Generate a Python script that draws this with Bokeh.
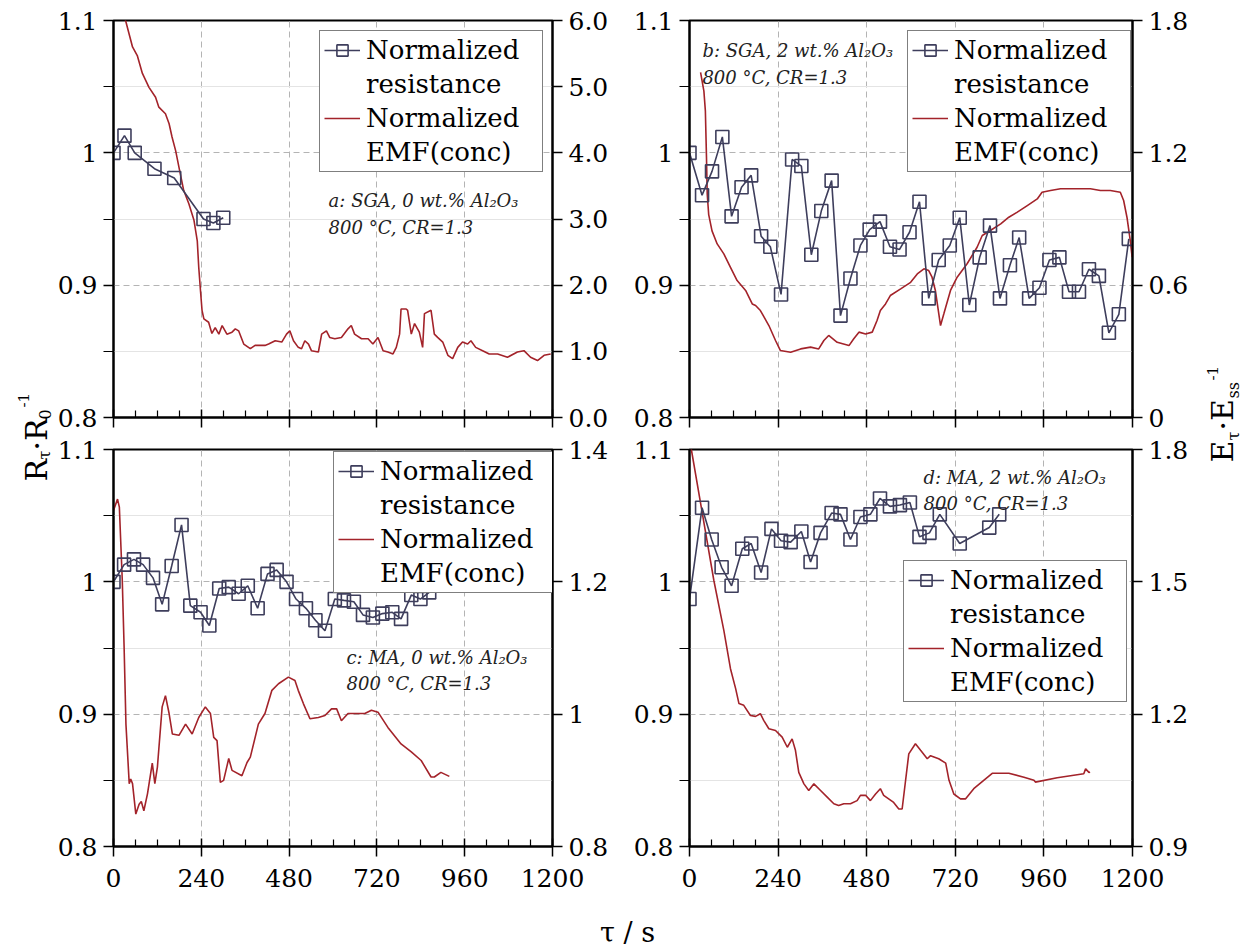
import math
from bokeh.plotting import figure
from bokeh.models import (Range1d, LinearAxis, FixedTicker, NumeralTickFormatter,
                          CustomJSTickFormatter, Legend, LegendItem, Label)
from bokeh.layouts import row, column
from bokeh.embed import file_html
from bokeh.resources import INLINE

# ---------------- data ----------------
x_ticks = [0, 240, 480, 720, 960, 1200]
x_minor = [60, 120, 180, 300, 360, 420, 540, 600, 660, 780, 840, 900, 1020, 1080, 1140]
left_ticks = [0.8, 0.9, 1.0, 1.1]
left_minor = [0.85, 0.95, 1.05]

# panel a: SGA, 0 wt.% Al2O3
a_res_t = [0, 30, 58, 112, 166, 246, 273, 300]
a_res_v = [1.000, 1.013, 1.000, 0.988, 0.981, 0.950, 0.947, 0.951]
a_emf_t = [18, 33, 52, 65, 79, 97, 115, 124, 142, 152, 160, 170, 179, 192, 206, 220, 229, 233, 238, 242,
           247, 260, 269, 278, 288, 297, 310, 324, 333, 342, 356, 374, 387, 414, 424, 442, 460, 473, 482, 492,
           505, 514, 523, 533, 541, 560, 569, 582, 591, 605, 623, 641, 650, 659, 678, 696, 709, 723, 737, 750,
           764, 773, 782, 786, 800, 804, 814, 823, 836, 845, 850, 868, 877, 886, 900, 914, 927, 941, 954, 968,
           977, 990, 1009, 1027, 1050, 1077, 1104, 1122, 1140, 1159, 1177, 1195]
a_emf_v = [6.4, 6.0, 5.6, 5.47, 5.2, 4.99, 4.84, 4.69, 4.59, 4.44, 4.24, 4.03, 3.78, 3.43, 3.23, 2.98, 2.67, 2.27, 1.9, 1.62,
           1.49, 1.44, 1.27, 1.36, 1.26, 1.39, 1.26, 1.29, 1.34, 1.31, 1.11, 1.04, 1.09, 1.09, 1.11, 1.16, 1.14, 1.26, 1.31, 1.16,
           1.06, 1.04, 1.16, 1.11, 1.01, 0.99, 1.26, 1.31, 1.21, 1.19, 1.21, 1.34, 1.39, 1.26, 1.19, 1.19, 1.11, 1.21, 1.01, 0.99,
           0.96, 1.06, 1.26, 1.64, 1.64, 1.62, 1.26, 1.42, 1.29, 1.06, 1.57, 1.62, 1.26, 1.21, 1.14, 0.94, 0.89, 1.06, 1.14, 1.11,
           1.16, 1.06, 1.01, 0.96, 0.96, 0.91, 0.99, 1.01, 0.91, 0.86, 0.94, 0.96]
a_emf_ticks = [0, 1, 2, 3, 4, 5, 6]

# panel b: SGA, 2 wt.% Al2O3
b_res_t = [0, 34, 61, 89, 114, 141, 167, 194, 219, 248, 278, 303, 330, 357, 385, 409, 436, 463, 488, 516,
           543, 569, 596, 623, 648, 675, 705, 732, 758, 786, 814, 841, 868, 893, 920, 948, 975, 1002, 1028, 1055,
           1082, 1109, 1136, 1163, 1190]
b_res_v = [1.000, 0.968, 0.986, 1.012, 0.952, 0.974, 0.983, 0.937, 0.929, 0.893, 0.995, 0.990, 0.923, 0.956, 0.979,
           0.877, 0.905, 0.930, 0.942, 0.948, 0.929, 0.927, 0.940, 0.963, 0.890, 0.919, 0.930, 0.951, 0.885, 0.921,
           0.945, 0.890, 0.915, 0.936, 0.890, 0.898, 0.919, 0.921, 0.895, 0.895, 0.912, 0.907, 0.864, 0.878, 0.935]
b_emf_t = [30, 39, 43, 46, 48, 52, 61, 75, 93, 111, 129, 152, 170, 179, 192, 215, 233, 246, 274, 301,
           328, 350, 364, 377, 400, 432, 445, 459, 477, 495, 508, 517, 531, 544, 572, 599, 617, 635, 648, 657,
           666, 680, 689, 694, 707, 725, 752, 779, 793, 815, 843, 865, 888, 915, 942, 955, 978, 1005, 1032, 1059,
           1086, 1113, 1140, 1167, 1176, 1185, 1194, 1199]
b_emf_v = [1.565, 1.48, 1.39, 1.18, 1.014, 0.92, 0.846, 0.787, 0.742, 0.681, 0.621, 0.576, 0.515, 0.508, 0.485, 0.417, 0.349, 0.304, 0.296, 0.311,
           0.319, 0.311, 0.349, 0.372, 0.341, 0.326, 0.357, 0.387, 0.379, 0.387, 0.440, 0.485, 0.515, 0.553, 0.583, 0.613, 0.651, 0.674, 0.666, 0.636,
           0.576, 0.417, 0.470, 0.500, 0.576, 0.636, 0.697, 0.772, 0.825, 0.848, 0.878, 0.908, 0.931, 0.961, 0.991, 1.021, 1.029, 1.037, 1.037, 1.037,
           1.037, 1.029, 1.029, 1.021, 0.984, 0.908, 0.802, 0.727]
b_emf_ticks = [0, 0.6, 1.2, 1.8]

# panel c: MA, 0 wt.% Al2O3
c_res_t = [0, 29, 56, 81, 108, 133, 159, 186, 210, 238, 262, 289, 315, 342, 367, 394, 421, 446, 473, 499,
           526, 552, 578, 605, 630, 657, 682, 709, 735, 762, 786, 814, 839, 863]
c_res_v = [1.000, 1.013, 1.017, 1.013, 1.003, 0.983, 1.012, 1.043, 0.982, 0.977, 0.967, 0.995, 0.996, 0.991, 0.997,
           0.980, 1.006, 1.009, 1.000, 0.987, 0.980, 0.971, 0.963, 0.987, 0.986, 0.985, 0.975, 0.973, 0.976, 0.977,
           0.972, 0.990, 0.987, 0.992]
c_emf_t = [0, 11, 16, 24, 29, 34, 43, 47, 52, 61, 70, 76, 83, 93, 106, 113, 120, 133, 142, 152,
           161, 179, 197, 215, 233, 251, 265, 274, 283, 292, 301, 315, 324, 351, 365, 374, 396, 414, 433, 451,
           478, 496, 505, 519, 537, 560, 578, 596, 610, 623, 641, 659, 687, 705, 723, 750, 786, 814, 841, 868,
           877, 895, 918]
c_emf_v = [1.308, 1.325, 1.313, 1.202, 1.101, 0.985, 0.895, 0.902, 0.895, 0.849, 0.864, 0.868, 0.854, 0.880, 0.926, 0.895, 0.920, 1.011, 1.028, 1.001,
           0.970, 0.968, 0.985, 0.970, 0.995, 1.011, 1.001, 0.965, 0.960, 0.897, 0.900, 0.933, 0.915, 0.907, 0.927, 0.935, 0.985, 1.001, 1.036, 1.046,
           1.056, 1.051, 1.036, 1.016, 0.993, 0.995, 0.998, 1.008, 1.008, 0.990, 1.001, 1.001, 1.001, 1.006, 1.003, 0.980, 0.955, 0.943, 0.930, 0.905,
           0.905, 0.912, 0.906]
c_emf_ticks = [0.8, 1.0, 1.2, 1.4]

# panel d: MA, 2 wt.% Al2O3
d_res_t = [0, 34, 60, 87, 114, 143, 167, 194, 222, 248, 274, 303, 328, 355, 385, 409, 436, 463, 490, 516,
           543, 570, 597, 623, 650, 678, 732, 812, 839]
d_res_v = [0.987, 1.056, 1.032, 1.011, 0.997, 1.025, 1.029, 1.007, 1.040, 1.031, 1.030, 1.038, 1.015, 1.037, 1.052,
           1.051, 1.032, 1.049, 1.051, 1.063, 1.057, 1.058, 1.060, 1.034, 1.037, 1.051, 1.029, 1.041, 1.051]
d_emf_t = [0, 5, 66, 93, 111, 125, 134, 147, 165, 179, 192, 201, 215, 233, 251, 265, 278, 287, 296, 310,
           323, 337, 355, 373, 391, 404, 418, 436, 454, 463, 477, 490, 504, 517, 526, 553, 567, 576, 594, 612,
           626, 644, 653, 675, 694, 703, 716, 734, 748, 770, 797, 820, 865, 906, 933, 937, 996, 1068, 1073, 1082,
           1085]
d_emf_v = [1.83, 1.80, 1.503, 1.390, 1.303, 1.258, 1.224, 1.220, 1.197, 1.195, 1.201, 1.186, 1.167, 1.163, 1.148, 1.125, 1.144, 1.118, 1.068, 1.042,
           1.027, 1.042, 1.027, 1.012, 0.997, 0.993, 0.997, 0.997, 1.004, 1.016, 1.016, 1.004, 1.019, 1.031, 1.016, 1.000, 0.985, 0.985, 1.110, 1.133,
           1.118, 1.099, 1.106, 1.099, 1.089, 1.050, 1.019, 1.008, 1.008, 1.031, 1.050, 1.066, 1.066, 1.057, 1.050, 1.046, 1.056, 1.065, 1.076, 1.068,
           1.069]
d_emf_ticks = [0.9, 1.2, 1.5, 1.8]

legend_lines = ["Normalized", "resistance", "Normalized", "EMF(conc)"]

# ---------------- style ----------------
FONT = "DejaVu Serif"
RES_COLOR = "#3e3e5c"
EMF_COLOR = "#a3232a"
GRID_COLOR = "#b4b4b4"


def style_axis(ax, font_size="25px"):
    ax.axis_line_width = 2
    ax.axis_line_color = "black"
    ax.major_tick_line_width = 1.5
    ax.major_tick_line_color = "black"
    ax.minor_tick_line_width = 1.2
    ax.minor_tick_line_color = "black"
    ax.major_label_text_font = FONT
    ax.major_label_text_font_size = font_size
    ax.major_label_text_color = "black"
    ax.major_label_standoff = 6


def make_panel(width, height, borders, res_t, res_v, emf_t, emf_v, emf_range, emf_ticks, emf_fmt,
               show_x_labels, legend_loc, notes):
    p = figure(width=width, height=height, x_range=Range1d(0, 1200), y_range=Range1d(0.8, 1.1),
               toolbar_location=None, output_backend="svg",
               min_border_left=borders[0], min_border_right=borders[1],
               min_border_top=borders[2], min_border_bottom=borders[3])
    p.background_fill_color = "white"
    p.border_fill_color = "white"
    p.outline_line_color = "black"
    p.outline_line_width = 2

    # x axis
    xa = p.below[0]
    xa.ticker = FixedTicker(ticks=x_ticks, minor_ticks=x_minor)
    style_axis(xa)
    xa.major_tick_in = 8
    xa.major_tick_out = 10
    xa.minor_tick_in = 7
    xa.minor_tick_out = 0
    if show_x_labels:
        xa.formatter = NumeralTickFormatter(format="0")
        xa.major_label_standoff = 12
    else:
        xa.formatter = CustomJSTickFormatter(code="return ''")
        xa.major_label_standoff = -34

    # left axis
    ya = p.left[0]
    ya.ticker = FixedTicker(ticks=left_ticks, minor_ticks=left_minor)
    ya.formatter = NumeralTickFormatter(format="0.[0]")
    style_axis(ya)
    ya.major_tick_in = 0
    ya.major_tick_out = 10
    ya.minor_tick_in = 0
    ya.minor_tick_out = 10

    # right axis
    p.extra_y_ranges = {"emf": Range1d(*emf_range)}
    ra = LinearAxis(y_range_name="emf", ticker=FixedTicker(ticks=emf_ticks),
                    formatter=NumeralTickFormatter(format=emf_fmt))
    style_axis(ra)
    ra.major_tick_in = 0
    ra.major_tick_out = 10
    ra.minor_tick_in = 0
    ra.minor_tick_out = 0
    p.add_layout(ra, "right")

    # grids
    p.xgrid.grid_line_color = GRID_COLOR
    p.xgrid.grid_line_dash = "6 4"
    p.xgrid.grid_line_width = 1
    p.ygrid.grid_line_color = GRID_COLOR
    p.ygrid.grid_line_dash = "6 4"
    p.ygrid.grid_line_width = 1
    p.ygrid.minor_grid_line_color = "#e4e4e4"
    p.ygrid.minor_grid_line_width = 1

    el = p.line(emf_t, emf_v, y_range_name="emf", line_color=EMF_COLOR, line_width=1.6)
    rl = p.line(res_t, res_v, line_color=RES_COLOR, line_width=1.6)
    rs = p.scatter(res_t, res_v, marker="square", size=13, line_color=RES_COLOR,
                   fill_color=None, line_width=1.6)

    leg = Legend(items=[LegendItem(label=legend_lines[0], renderers=[rl, rs]),
                        LegendItem(label=legend_lines[1], renderers=[]),
                        LegendItem(label=legend_lines[2], renderers=[el]),
                        LegendItem(label=legend_lines[3], renderers=[])],
                 location=legend_loc)
    leg.label_text_font = FONT
    leg.label_text_font_size = "26px"
    leg.label_text_color = "black"
    leg.border_line_color = "black"
    leg.border_line_width = 1.5
    leg.background_fill_color = "white"
    leg.background_fill_alpha = 1.0
    leg.padding = 4
    leg.spacing = 4
    leg.margin = 0
    leg.glyph_width = 36
    leg.glyph_height = 28
    leg.label_standoff = 6
    leg.label_width = 172
    p.add_layout(leg)

    for (tx, ty, txt) in notes:
        p.add_layout(Label(x=tx, y=ty, text=txt, text_font=FONT, text_font_style="italic",
                           text_font_size="18px", text_color="#222222",
                           text_baseline="alphabetic", text_align="left"))
    return p


LW = 54          # width of the left axis-title strip
RW = 59          # width of the right axis-title strip
TOP_H = 435      # top row height
BOT_H = 465      # bottom row height
XL_H = 948 - TOP_H - BOT_H   # strip for the common x title

tl = make_panel(620 - LW, TOP_H, (111 - LW, 68, 20, 18), a_res_t, a_res_v, a_emf_t, a_emf_v, (0, 6), a_emf_ticks, "0.0",
                False, (206, 245),
                [(588, 0.964, "a: SGA, 0 wt.% Al\u2082O\u2083"), (588, 0.9435, "800 \u00b0C, CR=1.3")])
tr = make_panel(1251 - 620 - RW, TOP_H, (69, 60, 20, 18), b_res_t, b_res_v, b_emf_t, b_emf_v, (0, 1.8), b_emf_ticks, "0.[0]",
                False, (218, 245),
                [(35, 1.0773, "b: SGA, 2 wt.% Al\u2082O\u2083"), (35, 1.0569, "800 \u00b0C, CR=1.3")])
bl = make_panel(620 - LW, BOT_H, (111 - LW, 68, 14, BOT_H - 14 - 397), c_res_t, c_res_v, c_emf_t, c_emf_v, (0.8, 1.4), c_emf_ticks, "0.[0]",
                True, (220, 253),
                [(637, 0.9428, "c: MA, 0 wt.% Al\u2082O\u2083"), (637, 0.9231, "800 \u00b0C, CR=1.3")])
br = make_panel(1251 - 620 - RW, BOT_H, (69, 60, 14, BOT_H - 14 - 397), d_res_t, d_res_v, d_emf_t, d_emf_v, (0.9, 1.8), d_emf_ticks, "0.[0]",
                True, (214, 144),
                [(634, 1.0788, "d: MA, 2 wt.% Al\u2082O\u2083"), (634, 1.0592, "800 \u00b0C, CR=1.3")])


def blank(width, height):
    f = figure(width=width, height=height, x_range=Range1d(0, width), y_range=Range1d(0, height),
               x_axis_type=None, y_axis_type=None, toolbar_location=None, output_backend="svg",
               min_border=0)
    f.outline_line_color = None
    f.background_fill_color = "white"
    f.border_fill_color = "white"
    return f


def put(f, x, y, txt, size, angle=0.0, align="left"):
    f.add_layout(Label(x=x, y=y, text=txt, angle=angle, text_font=FONT, text_font_size=size,
                       text_align=align, text_baseline="alphabetic", text_color="black"))


H = TOP_H + BOT_H
R90 = math.pi / 2
lab_left = blank(LW, H)
put(lab_left, 36, H - 481, "R", "30px", R90)
put(lab_left, 44, H - 459, "\u03c4", "16px", R90)
put(lab_left, 36, H - 450, "\u00b7R", "30px", R90)
put(lab_left, 44, H - 419, "0", "16px", R90)
put(lab_left, 23, H - 407, "-1", "15px", R90)

lab_right = blank(RW, H)
put(lab_right, 30, H - 462, "E", "30px", R90)
put(lab_right, 41, H - 440, "\u03c4", "16px", R90)
put(lab_right, 30, H - 430, "\u00b7E", "30px", R90)
put(lab_right, 41, H - 398, "ss", "16px", R90)
put(lab_right, 20, H - 380, "-1", "15px", R90)

lab_bottom = blank(1251, XL_H)
put(lab_bottom, 627, 948 - 932, "\u03c4 / s", "27px", 0.0, "center")

layout = column(row(lab_left, column(row(tl, tr), row(bl, br)), lab_right), lab_bottom)

open("out.html", "w").write(file_html(layout, INLINE))
